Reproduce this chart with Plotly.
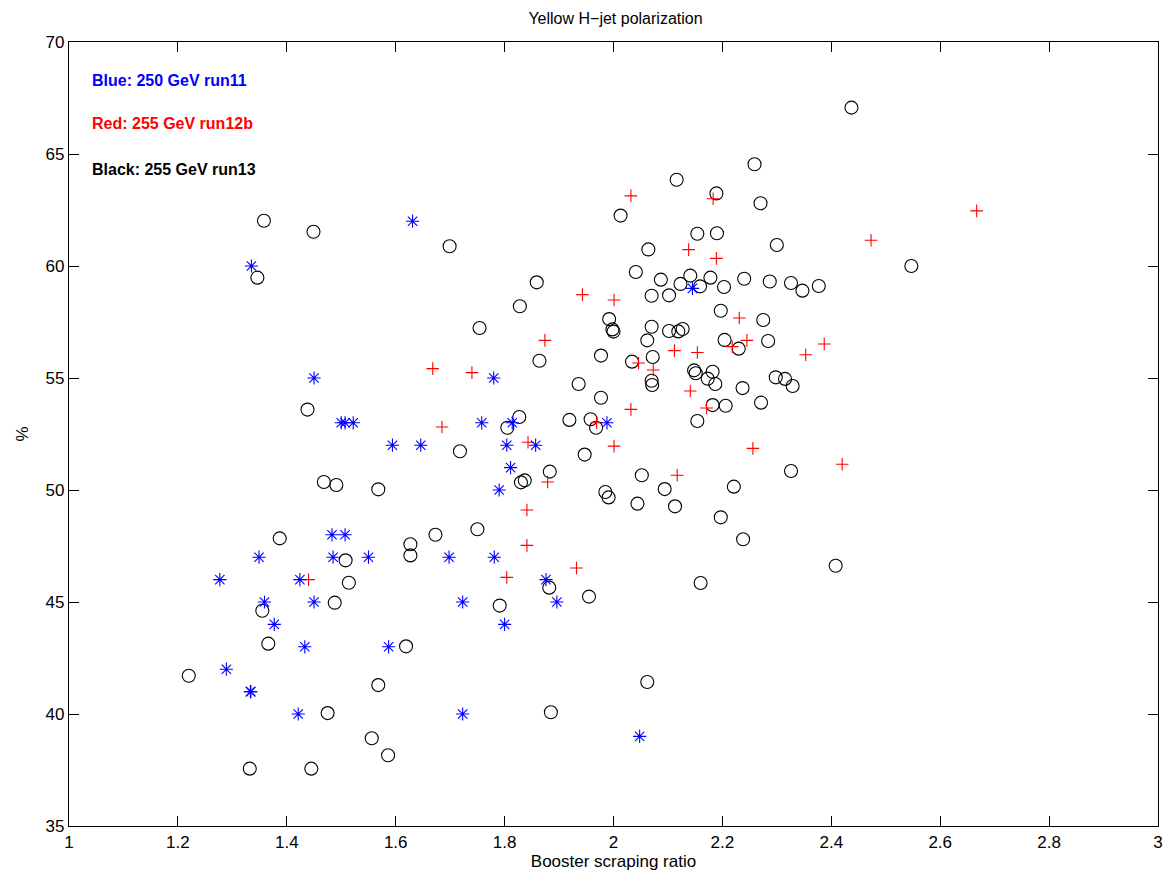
import plotly.graph_objects as go

# Blue: 250 GeV run11
run11_x = [1.335, 1.631, 1.450, 1.780, 2.145, 1.500, 1.507, 1.522, 1.758, 1.814, 1.988,
           1.594, 1.646, 1.804, 1.857, 1.811, 1.790, 1.483, 1.507, 1.349, 1.485, 1.550,
           1.698, 1.781, 1.277, 1.424, 1.876, 1.359, 1.450, 1.723, 1.896, 1.377, 1.800,
           1.433, 1.587, 1.289, 1.333, 1.334, 1.421, 1.723, 2.048]
run11_y = [60, 62, 55, 55, 59, 53, 53, 53, 53, 53, 53,
           52, 52, 52, 52, 51, 50, 48, 48, 47, 47, 47,
           47, 47, 46, 46, 46, 45, 45, 45, 45, 44, 44,
           43, 43, 42, 41, 41, 40, 40, 39]

# Red: 255 GeV run12b
run12b_x = [1.668, 2.032, 2.183, 2.138, 2.189, 1.943, 2.001, 1.874, 2.231, 2.245, 2.218,
            1.740, 2.112, 2.154, 2.046, 2.073, 2.141, 2.032, 2.171, 1.685, 1.969, 1.843,
            2.001, 2.256, 2.117, 1.879, 1.841, 1.841, 1.932, 1.804, 2.667, 2.473, 2.387,
            2.353, 2.420, 1.440]
run12b_y = [55.42, 63.13, 63.00, 60.73, 60.34, 58.72, 58.48, 56.68, 57.68, 56.68, 56.40,
            55.24, 56.22, 56.14, 55.67, 55.36, 54.42, 53.60, 53.66, 52.81, 53.00, 52.13,
            51.96, 51.86, 50.66, 50.36, 49.11, 47.53, 46.52, 46.10, 62.46, 61.15, 56.52,
            56.04, 51.15, 46.00]

# Black: 255 GeV run13
run13_x = [1.358, 1.449, 1.346, 1.438,
           2.259, 2.116, 2.189, 2.270, 2.013, 1.699, 2.300, 2.154, 2.190, 2.064, 2.041,
           2.087, 2.141, 2.123, 2.159, 2.178, 2.203, 2.240, 2.287, 2.326, 2.070, 2.102,
           1.859, 1.828, 2.197, 2.275, 1.754, 1.992, 1.998, 2.000, 2.070, 2.062, 2.102,
           2.119, 2.127, 2.284, 2.204, 2.230, 1.864, 1.977, 2.034, 2.072, 2.148, 2.151,
           2.182, 2.173, 2.187, 2.070, 2.071, 2.298, 2.315, 2.329, 2.237, 1.977, 1.936,
           2.182, 2.206, 2.271, 2.154, 1.919, 1.958, 1.968, 1.827, 1.805,
           2.437, 2.547, 2.347, 2.377,
           1.468, 1.491, 1.568, 1.387, 1.673, 1.627, 1.627, 1.508, 1.514, 1.488, 1.355,
           1.366, 1.619, 1.220, 1.568, 1.475, 1.556, 1.586, 1.332, 1.445,
           1.750, 1.718, 1.883, 1.830, 1.837, 1.947, 2.052, 1.985, 1.991, 2.044, 2.094,
           2.113, 2.221, 2.197, 2.238, 2.326, 1.882, 1.955, 1.791, 2.160, 2.062, 1.885,
           2.408]
run13_y = [62.02, 61.53, 59.48, 53.59,
           64.54, 63.85, 63.24, 62.80, 62.25, 60.88, 60.94, 61.44, 61.46, 60.74, 59.73,
           59.39, 59.57, 59.20, 59.09, 59.48, 59.06, 59.43, 59.31, 59.24, 58.67, 58.69,
           59.27, 58.20, 58.00, 57.59, 57.23, 57.63, 57.17, 57.07, 57.29, 56.68, 57.10,
           57.08, 57.19, 56.65, 56.70, 56.31, 55.77, 56.00, 55.73, 55.94, 55.34, 55.21,
           55.28, 54.97, 54.73, 54.88, 54.69, 55.03, 54.96, 54.64, 54.55, 54.12, 54.73,
           53.79, 53.76, 53.90, 53.08, 53.13, 53.16, 52.78, 53.26, 52.78,
           67.07, 60.00, 58.90, 59.11,
           50.36, 50.22, 50.03, 47.84, 48.00, 47.58, 47.08, 46.86, 45.86, 44.97, 44.61,
           43.14, 43.02, 41.71, 41.29, 40.04, 38.92, 38.16, 37.56, 37.56,
           48.25, 51.73, 50.82, 50.34, 50.43, 51.58, 50.66, 49.91, 49.67, 49.39, 50.04,
           49.27, 50.15, 48.78, 47.80, 50.85, 45.64, 45.24, 44.84, 45.85, 41.43, 40.08,
           46.62]

x_ticks = [1, 1.2, 1.4, 1.6, 1.8, 2, 2.2, 2.4, 2.6, 2.8, 3]
x_tick_labels = ["1", "1.2", "1.4", "1.6", "1.8", "2", "2.2", "2.4", "2.6", "2.8", "3"]
y_ticks = [35, 40, 45, 50, 55, 60, 65, 70]

legend_texts = ["Blue: 250 GeV run11", "Red: 255 GeV run12b", "Black: 255 GeV run13"]
legend_colors = ["#0000ff", "#ff0000", "#000000"]

FONT = "Liberation Sans, Arial, Helvetica, sans-serif"

fig = go.Figure()
fig.add_trace(go.Scatter(
    x=run13_x, y=run13_y, mode="markers", name="run13",
    marker=dict(symbol="circle-open", size=13, color="black", line=dict(width=1.1, color="black")),
))
fig.add_trace(go.Scatter(
    x=run12b_x, y=run12b_y, mode="markers", name="run12b",
    marker=dict(symbol="cross-thin-open", size=9, color="#ff0000", line=dict(width=1.1, color="#ff0000")),
))
fig.add_trace(go.Scatter(
    x=run11_x, y=run11_y, mode="markers", name="run11",
    marker=dict(symbol="asterisk-open", size=11, color="#0000ff", line=dict(width=1.1, color="#0000ff")),
))

ann_y = [68.26, 66.35, 64.29]
for txt, col, yy in zip(legend_texts, legend_colors, ann_y):
    fig.add_annotation(x=1.039, y=yy, xref="x", yref="y", text="<b>" + txt + "</b>",
                       showarrow=False, xanchor="left", yanchor="middle",
                       font=dict(family=FONT, size=16, color=col))

axis_common = dict(showline=True, linecolor="black", linewidth=1.3, mirror="allticks",
                   ticks="inside", ticklen=10, tickwidth=1, tickcolor="black",
                   showgrid=False, zeroline=False,
                   tickfont=dict(family=FONT, size=17, color="black"))

fig.update_layout(
    width=1175, height=882,
    margin=dict(l=69, r=13, t=42, b=56),
    paper_bgcolor="white", plot_bgcolor="white",
    showlegend=False,
    title=dict(text="Yellow H\u2212jet polarization", x=0.5 * (69 + 1162) / 1175, xanchor="center",
               y=1 - 18 / 882, yanchor="middle",
               font=dict(family=FONT, size=16, color="black")),
    xaxis=dict(range=[1, 3], tickvals=x_ticks, ticktext=x_tick_labels,
               title=dict(text="Booster scraping ratio", standoff=4,
                          font=dict(family=FONT, size=17, color="black")),
               **axis_common),
    yaxis=dict(range=[35, 70], tickvals=y_ticks,
               title=dict(text="%", standoff=12,
                          font=dict(family=FONT, size=17, color="black")),
               **axis_common),
)

fig.write_html("out.html")
